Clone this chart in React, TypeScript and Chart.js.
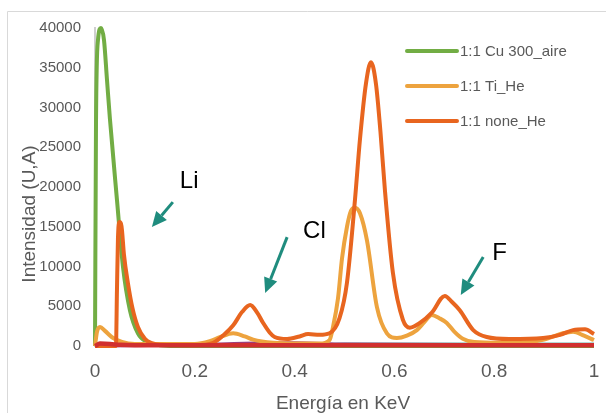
import React, { useEffect, useRef } from "react";
import { Chart, registerables } from "chart.js";

Chart.register(...registerables);

const xTickValues = [0, 0.2, 0.4, 0.6, 0.8, 1];
const yTickValues = [0, 5000, 10000, 15000, 20000, 25000, 30000, 35000, 40000];

const cuLabel = "1:1 Cu 300_aire";
const cuX = [0, 0.002, 0.006, 0.012, 0.018, 0.024, 0.03, 0.044, 0.056, 0.07, 0.086, 0.104, 0.13, 0.16, 1];
const cuY = [0, 28000, 38500, 40000, 38500, 33500, 28500, 18400, 10000, 4500, 1600, 500, 100, 0, 0];

const tiLabel = "1:1 Ti_He";
const tiX = [0, 0.004, 0.01, 0.02, 0.034, 0.054, 0.08, 0.2, 0.23, 0.25, 0.277, 0.3, 0.317, 0.357, 0.4, 0.45, 0.47, 0.477, 0.487, 0.495, 0.505, 0.513, 0.521, 0.531, 0.545, 0.565, 0.585, 0.605, 0.625, 0.645, 0.66, 0.675, 0.69, 0.705, 0.72, 0.737, 0.76, 0.81, 0.87, 0.9, 0.938, 0.958, 0.98, 1];
const tiY = [0, 1800, 2400, 1900, 1100, 500, 250, 250, 600, 1100, 1600, 1200, 800, 400, 300, 300, 750, 2400, 6000, 11000, 15000, 17000, 17400, 16700, 13300, 4900, 1600, 1000, 1300, 2000, 3000, 3900, 3500, 2900, 1800, 900, 500, 400, 500, 800, 1600, 1800, 1300, 750];

const noneLabel = "1:1 none_He";
const noneX = [0, 0.042, 0.044, 0.046, 0.049, 0.052, 0.054, 0.058, 0.066, 0.075, 0.086, 0.1, 0.114, 0.13, 0.2, 0.237, 0.26, 0.277, 0.295, 0.311, 0.325, 0.337, 0.35, 0.36, 0.385, 0.41, 0.427, 0.45, 0.47, 0.49, 0.505, 0.521, 0.531, 0.543, 0.553, 0.563, 0.572, 0.581, 0.597, 0.617, 0.631, 0.651, 0.675, 0.701, 0.716, 0.731, 0.758, 0.785, 0.83, 0.898, 0.932, 0.958, 0.982, 1];
const noneY = [0, 0, 7000, 13500, 15600, 15400, 14600, 11500, 7900, 4800, 2400, 900, 350, 150, 100, 400, 1500, 2600, 4300, 5150, 4200, 2900, 1700, 1130, 880, 1200, 1500, 1400, 1600, 3500, 8000, 18400, 26000, 33000, 35700, 33000, 27000, 19600, 9200, 3300, 2300, 2900, 4200, 6300, 5500, 4500, 2000, 1130, 880, 1000, 1400, 2000, 2100, 1500];

const redX = [0, 0.01, 0.03, 0.05, 0.08, 0.2, 0.5, 1];
const redY = [0, 300, 250, 150, 100, 100, 100, 100];

const purpleX = [0, 0.2, 0.3, 0.4, 0.5, 1];
const purpleY = [0, 150, 350, 400, 250, 150];

const tealX = [0, 0.4, 0.5, 0.7, 1];
const tealY = [0, 150, 350, 350, 350];

const legendOrder = [cuLabel, tiLabel, noneLabel];

const annoText = ["Li", "Cl", "F"];
const annoTextX = [0.17, 0.417, 0.796];
const annoTextY = [19900, 13600, 10800];
const arrowTailX = [0.156, 0.385, 0.778];
const arrowTailY = [18100, 13700, 11200];
const arrowTipX = [0.114, 0.341, 0.733];
const arrowTipY = [14970, 6670, 6420];

const FONT = "'Liberation Sans', Arial, sans-serif";
const GRAY = "#595959";
const W = 606;
const H = 413;

const pts = (xs: number[], ys: number[]) => xs.map((x, i) => ({ x, y: ys[i] }));

const decorPlugin = {
  id: "decor",
  beforeDraw(chart: any) {
    const ctx = chart.ctx;
    ctx.save();
    ctx.strokeStyle = "#D9D9D9";
    ctx.lineWidth = 1;
    ctx.beginPath();
    ctx.moveTo(7.5, chart.height + 5);
    ctx.lineTo(7.5, 11.5);
    ctx.lineTo(chart.width + 5, 11.5);
    ctx.stroke();
    ctx.restore();
  },
  afterDatasetsDraw(chart: any) {
    const ctx = chart.ctx;
    const xs = chart.scales.x;
    const ys = chart.scales.y;
    ctx.save();
    for (let i = 0; i < annoText.length; i++) {
      const tx = xs.getPixelForValue(arrowTailX[i]);
      const ty = ys.getPixelForValue(arrowTailY[i]);
      const hx = xs.getPixelForValue(arrowTipX[i]);
      const hy = ys.getPixelForValue(arrowTipY[i]);
      const ang = Math.atan2(hy - ty, hx - tx);
      const headLen = 15;
      const headHalf = 7;
      const bx = hx - headLen * Math.cos(ang);
      const by = hy - headLen * Math.sin(ang);
      ctx.strokeStyle = "#1F8C7E";
      ctx.fillStyle = "#1F8C7E";
      ctx.lineWidth = 3;
      ctx.beginPath();
      ctx.moveTo(tx, ty);
      ctx.lineTo(bx, by);
      ctx.stroke();
      ctx.beginPath();
      ctx.moveTo(hx, hy);
      ctx.lineTo(bx + headHalf * Math.sin(ang), by - headHalf * Math.cos(ang));
      ctx.lineTo(bx - headHalf * Math.sin(ang), by + headHalf * Math.cos(ang));
      ctx.closePath();
      ctx.fill();
      ctx.fillStyle = "#000000";
      ctx.font = `24px ${FONT}`;
      ctx.textAlign = "left";
      ctx.textBaseline = "alphabetic";
      ctx.fillText(annoText[i], xs.getPixelForValue(annoTextX[i]), ys.getPixelForValue(annoTextY[i]));
    }
    const ds = chart.data.datasets;
    legendOrder.forEach((lab, i) => {
      const d = ds.find((q: any) => q.label === lab);
      const y = 51 + i * 35;
      ctx.strokeStyle = d.borderColor;
      ctx.lineWidth = 4;
      ctx.lineCap = "round";
      ctx.beginPath();
      ctx.moveTo(407, y);
      ctx.lineTo(457, y);
      ctx.stroke();
      ctx.fillStyle = GRAY;
      ctx.font = `15px ${FONT}`;
      ctx.textAlign = "left";
      ctx.textBaseline = "middle";
      ctx.fillText(lab, 460, y + 1);
    });
    ctx.fillStyle = GRAY;
    ctx.font = `19px ${FONT}`;
    ctx.textAlign = "center";
    ctx.textBaseline = "alphabetic";
    ctx.fillText("Energía en KeV", 343, 409);
    ctx.translate(35, 214);
    ctx.rotate(-Math.PI / 2);
    ctx.fillText("Intensidad (U,A)", 0, 0);
    ctx.restore();
  },
};

export default function App() {
  const ref = useRef<HTMLCanvasElement | null>(null);
  useEffect(() => {
    document.body.style.margin = "0";
    document.documentElement.style.overflow = "hidden";
    document.body.style.overflow = "hidden";
    if (!ref.current) return;
    const common = {
      pointRadius: 0,
      fill: false,
      cubicInterpolationMode: "monotone" as const,
      clip: false as any,
    };
    const chart = new Chart(ref.current, {
      type: "line",
      data: {
        datasets: [
          { ...common, label: "red", data: pts(redX, redY), borderColor: "#D12F2F", borderWidth: 4.5 },
          { ...common, label: noneLabel, data: pts(noneX, noneY), borderColor: "#E8651F", borderWidth: 4 },
          { ...common, label: tiLabel, data: pts(tiX, tiY), borderColor: "#EDA33E", borderWidth: 4 },
          { ...common, label: cuLabel, data: pts(cuX, cuY), borderColor: "#72AD44", borderWidth: 4 },
          { ...common, label: "purple", data: pts(purpleX, purpleY), borderColor: "#9E3D78", borderWidth: 3 },
          { ...common, label: "teal", data: pts(tealX, tealY), borderColor: "#6FB3AE", borderWidth: 1.5 },
        ],
      },
      options: {
        animation: false,
        responsive: false,
        maintainAspectRatio: false,
        layout: { padding: { top: 28, right: 12, left: 0, bottom: 0 } },
        plugins: { legend: { display: false }, tooltip: { enabled: false } },
        scales: {
          x: {
            type: "linear",
            min: 0,
            max: 1,
            grid: { display: false, drawTicks: false },
            border: { display: false },
            afterBuildTicks: (s: any) => {
              s.ticks = xTickValues.map((v) => ({ value: v }));
            },
            afterFit: (s: any) => {
              s.height = 67;
              s.paddingLeft = 0;
              s.paddingRight = 0;
            },
            ticks: {
              color: GRAY,
              font: { family: FONT, size: 19 },
              padding: 14,
              maxRotation: 0,
              callback: (v: any) => String(v),
            },
          },
          y: {
            type: "linear",
            min: 0,
            max: 40000,
            grid: { display: false, drawTicks: false },
            border: { display: true, color: "#CFCFCF", width: 2 },
            afterBuildTicks: (s: any) => {
              s.ticks = yTickValues.map((v) => ({ value: v }));
            },
            afterFit: (s: any) => {
              s.width = 95;
              s.paddingTop = 0;
              s.paddingBottom = 0;
            },
            ticks: {
              color: GRAY,
              font: { family: FONT, size: 15 },
              padding: 14,
              callback: (v: any) => String(v),
            },
          },
        },
      },
      plugins: [decorPlugin],
    });
    return () => chart.destroy();
  }, []);
  return (
    <div style={{ width: W, height: H }}>
      <canvas ref={ref} width={W} height={H} style={{ display: "block", width: W, height: H }} />
    </div>
  );
}
